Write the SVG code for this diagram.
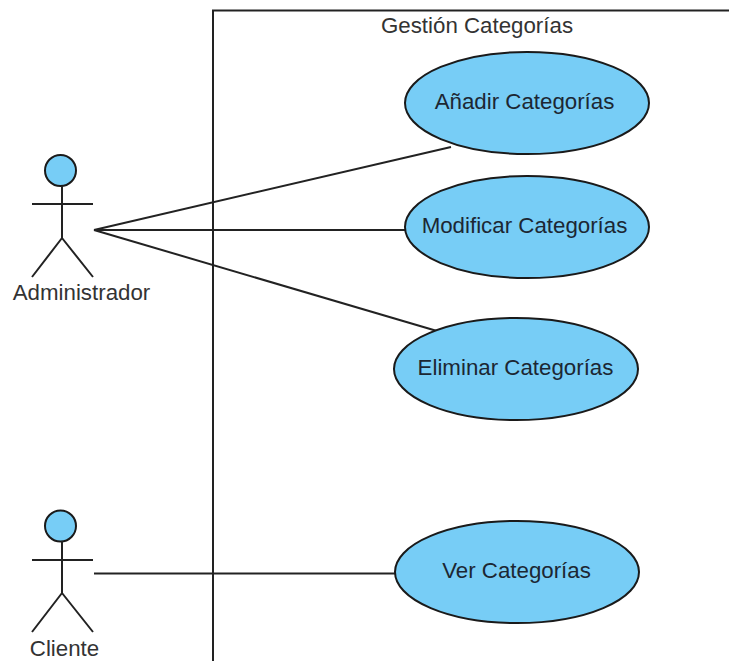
<svg xmlns="http://www.w3.org/2000/svg" width="729" height="661" viewBox="0 0 729 661">
<style>
text{font-family:"Liberation Sans",Arial,sans-serif;font-size:22.300px;fill:#333;text-anchor:middle}
.uc text{fill:#1c2733}
.l{fill:none;stroke:#222;stroke-width:2}
.f{fill:#77cdf6;stroke:#1a1a1a;stroke-width:2}
</style>
<rect width="729" height="661" fill="#fff"/>
<g id="system">
<path class="l" d="M213 661V10.500H729"/>
<text x="477" y="33">Gestión Categorías</text>
</g>
<g id="connectors">
<path class="l" d="M94 230L451 147"/>
<path class="l" d="M94 230H405"/>
<path class="l" d="M94 230L437 331"/>
<path class="l" d="M94 573.500H395"/>
</g>
<g id="actor-administrador">
<circle class="f" cx="60.500" cy="170.500" r="15.500"/>
<path class="l" d="M62 186V238M32 204H93M32 277L62 238L93 277"/>
<text x="81.500" y="300">Administrador</text>
</g>
<g id="actor-cliente">
<circle class="f" cx="60.500" cy="526" r="15.500"/>
<path class="l" d="M62 541V593M32 560H93M32 632L62 593L93 632"/>
<text x="64.500" y="656">Cliente</text>
</g>
<g id="uc-anadir" class="uc">
<ellipse class="f" cx="527" cy="103" rx="122" ry="51"/>
<text x="524.500" y="109">Añadir Categorías</text>
</g>
<g id="uc-modificar" class="uc">
<ellipse class="f" cx="527" cy="227" rx="122" ry="51"/>
<text x="524.500" y="233">Modificar Categorías</text>
</g>
<g id="uc-eliminar" class="uc">
<ellipse class="f" cx="516" cy="369" rx="122" ry="51"/>
<text x="515.500" y="375">Eliminar Categorías</text>
</g>
<g id="uc-ver" class="uc">
<ellipse class="f" cx="517" cy="572" rx="122" ry="51"/>
<text x="516.500" y="578">Ver Categorías</text>
</g>
</svg>
